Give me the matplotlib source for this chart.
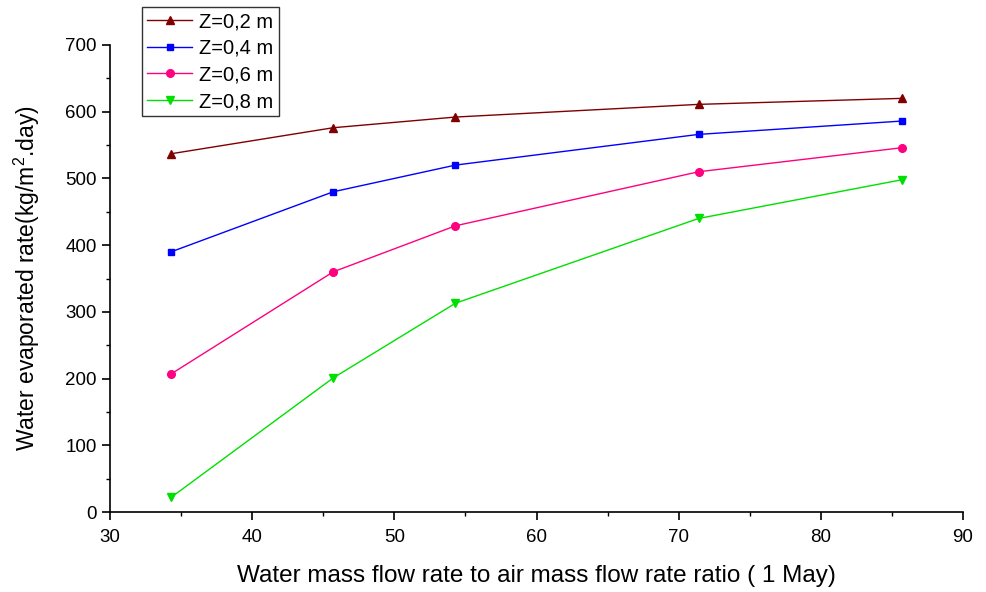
import numpy as np
import matplotlib.pyplot as plt
from matplotlib.ticker import MultipleLocator

plt.rcParams['font.family'] = ['Liberation Sans', 'DejaVu Sans']
plt.rcParams['mathtext.fontset'] = 'custom'
plt.rcParams['mathtext.rm'] = 'Liberation Sans'
plt.rcParams['mathtext.it'] = 'Liberation Sans:italic'

ratio = [34.3, 45.7, 54.3, 71.4, 85.7]
z02 = [537, 576, 592, 611, 620]
z04 = [390, 480, 520, 566, 586]
z06 = [207, 360, 429, 510, 546]
z08 = [22, 201, 313, 440, 498]

fig = plt.figure(figsize=(9.86, 5.92), dpi=100)
ax = fig.add_axes([0.1116, 0.1351, 0.8651, 0.7889])

ax.plot(ratio, z02, '-^', color='#800000', lw=1, ms=6, label='Z=0,2 m')
ax.plot(ratio, z04, '-s', color='#0000ff', lw=1, ms=5, label='Z=0,4 m')
ax.plot(ratio, z06, '-o', color='#ff0080', lw=1, ms=5.5, label='Z=0,6 m')
ax.plot(ratio, z08, '-v', color='#00e000', lw=1, ms=6, label='Z=0,8 m')

ax.set_xlim(30, 90)
ax.set_ylim(0, 700)
ax.xaxis.set_major_locator(MultipleLocator(10))
ax.xaxis.set_minor_locator(MultipleLocator(5))
ax.yaxis.set_major_locator(MultipleLocator(100))
ax.yaxis.set_minor_locator(MultipleLocator(50))
ax.spines['top'].set_visible(False)
ax.spines['right'].set_visible(False)
ax.spines['left'].set_linewidth(1.2)
ax.spines['bottom'].set_linewidth(1.2)
ax.tick_params(which='major', direction='out', length=6, width=1.2, labelsize=13.5)
ax.tick_params(axis='x', which='major', pad=6)
ax.tick_params(which='minor', direction='out', length=3, width=1)

ax.set_xlabel('Water mass flow rate to air mass flow rate ratio ( 1 May)', fontsize=17.5)
ax.set_ylabel(r'Water evaporated rate(kg/m$^2$.day)', fontsize=16.5)
ax.xaxis.set_label_coords(0.5, -0.113)
ax.yaxis.set_label_coords(-0.08, 0.5)

leg = ax.legend(loc='upper left', bbox_to_anchor=(0.144, 0.988), bbox_transform=fig.transFigure,
                fontsize=14.5, frameon=True, fancybox=False, handlelength=2.25,
                borderpad=0.25, labelspacing=0.38, handletextpad=0.35, borderaxespad=0)
leg.get_frame().set_edgecolor('black')
leg.get_frame().set_linewidth(1)

plt.savefig('out.png', dpi=100)
